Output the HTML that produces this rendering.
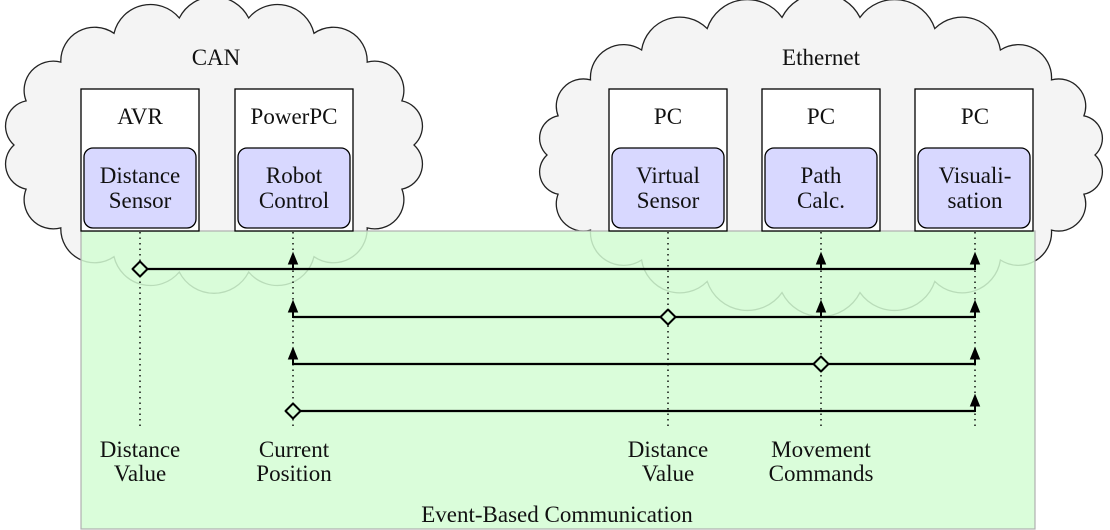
<!DOCTYPE html>
<html><head><meta charset="utf-8"><style>
html,body{margin:0;padding:0;background:#fff;width:1110px;height:530px;overflow:hidden}
svg text{font-family:"Liberation Serif","DejaVu Serif","Noto Serif CJK SC",serif;font-size:23px;fill:#111}
</style></head><body>
<svg id="s" width="1110" height="530" viewBox="0 0 1110 530" xmlns="http://www.w3.org/2000/svg">
<path id="c1" fill="#f4f4f4" stroke="#222" stroke-width="1.3"/>
<path id="c2" fill="#f4f4f4" stroke="#222" stroke-width="1.3"/>
<rect x="81" y="231" width="954" height="298" fill="#d4fdd4" fill-opacity="0.85" stroke="#b0b0b0" stroke-width="1.2"/>
<g fill="#fff" stroke="#000" stroke-width="1.3">
<rect x="81" y="89" width="118" height="142"/>
<rect x="235" y="89" width="118" height="142"/>
<rect x="609" y="89" width="118" height="142"/>
<rect x="762" y="89" width="118" height="142"/>
<rect x="915" y="89" width="118" height="142"/>
</g>
<g fill="#d8d8ff" stroke="#000" stroke-width="1.3">
<rect x="84" y="148" width="112" height="80" rx="9"/>
<rect x="238" y="148" width="112" height="80" rx="9"/>
<rect x="612" y="148" width="112" height="80" rx="9"/>
<rect x="765" y="148" width="112" height="80" rx="9"/>
<rect x="918" y="148" width="112" height="80" rx="9"/>
</g>
<g text-anchor="middle">
<text x="216" y="65">CAN</text>
<text x="821" y="65">Ethernet</text>
<text x="140" y="124">AVR</text><text x="294" y="124">PowerPC</text>
<text x="668" y="124">PC</text><text x="821" y="124">PC</text><text x="975" y="124">PC</text>
<text x="140" y="183">Distance</text><text x="140" y="208">Sensor</text>
<text x="294" y="183">Robot</text><text x="294" y="208">Control</text>
<text x="668" y="183">Virtual</text><text x="668" y="208">Sensor</text>
<text x="821" y="183">Path</text><text x="821" y="208">Calc.</text>
<text x="975" y="183">Visuali-</text><text x="975" y="208">sation</text>
<text x="140" y="457">Distance</text><text x="140" y="481">Value</text>
<text x="294" y="457">Current</text><text x="294" y="481">Position</text>
<text x="668" y="457">Distance</text><text x="668" y="481">Value</text>
<text x="821" y="457">Movement</text><text x="821" y="481">Commands</text>
<text x="557" y="522">Event-Based Communication</text>
</g>
<g stroke="#000" stroke-width="1.4" stroke-dasharray="1.5,4">
<line x1="140" y1="232" x2="140" y2="428"/><line x1="293" y1="232" x2="293" y2="428"/>
<line x1="668" y1="232" x2="668" y2="428"/><line x1="821" y1="232" x2="821" y2="428"/>
<line x1="975" y1="232" x2="975" y2="428"/>
</g>
<g id="msg" stroke="#000" stroke-width="2.2" fill="none"></g>
</svg>
<script>
function cloud(id,cx,cy,rx,ry,n,h){
  var p=[];for(var i=0;i<n;i++){var a=i/n*2*Math.PI;p.push([cx+(rx-h)*Math.cos(a),cy+(ry-h)*Math.sin(a)]);}
  var d="M"+p[0][0].toFixed(1)+","+p[0][1].toFixed(1);
  for(var i=1;i<=n;i++){var q=p[i%n],pr=p[i-1];var c=Math.hypot(q[0]-pr[0],q[1]-pr[1]);var r=c*0.56;
    d+=" A"+r.toFixed(1)+","+r.toFixed(1)+" 0 0 1 "+q[0].toFixed(1)+","+q[1].toFixed(1);}
  document.getElementById(id).setAttribute("d",d+" Z");
}
cloud("c1",214,145,214,143,18,14);
cloud("c2",821,155,288,153,22,14);
var g=document.getElementById("msg"),NS="http://www.w3.org/2000/svg";
function el(t,a){var e=document.createElementNS(NS,t);for(var k in a)e.setAttribute(k,a[k]);g.appendChild(e);return e;}
var rows=[[269,140,[293,821,975]],[317,668,[293,821,975]],[364,821,[293,975]],[411,293,[975]]];
rows.forEach(function(r){
  var y=r[0],s=r[1],xs=r[2].concat([s]);var mn=Math.min.apply(null,xs),mx=Math.max.apply(null,xs);
  el("line",{x1:mn,y1:y,x2:mx,y2:y});
  r[2].forEach(function(x){
    el("line",{x1:x,y1:y+1,x2:x,y2:y-6,"stroke-width":"2"});
    el("path",{d:"M"+x+","+(y-16)+" L"+(x+4.5)+","+(y-5)+" L"+(x-4.5)+","+(y-5)+" Z",fill:"#000","stroke-width":"1"});
  });
  el("path",{d:"M"+(s-7.5)+","+y+" L"+s+","+(y-7.5)+" L"+(s+7.5)+","+y+" L"+s+","+(y+7.5)+" Z",fill:"#d4fdd4","stroke-width":"2","stroke-linejoin":"round"});
});
</script>
</body></html>
